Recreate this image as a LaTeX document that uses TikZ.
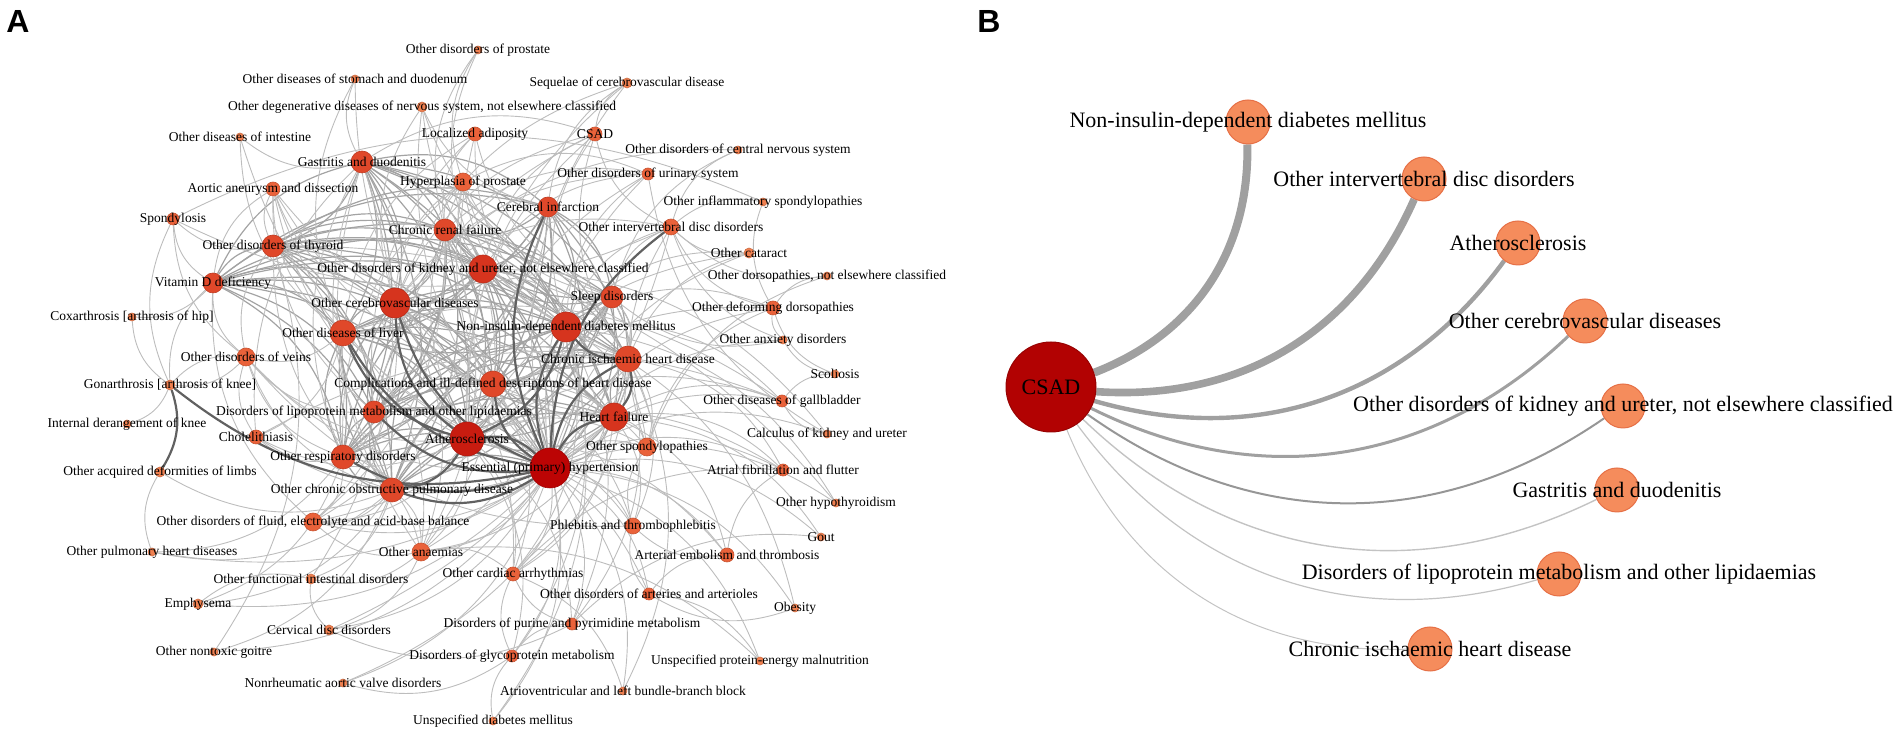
\documentclass[tikz,border=0pt]{standalone}
\usepackage{fontspec}
\setmainfont{Liberation Serif}
\newfontfamily\lettfont{Liberation Sans}
\pgfdeclarelayer{edges}
\pgfsetlayers{edges,main}
\definecolor{cS}{RGB}{240,128,80}
\definecolor{cM}{RGB}{234,98,58}
\definecolor{cL}{RGB}{224,72,42}
\definecolor{cX}{RGB}{214,52,30}
\definecolor{cAth}{RGB}{200,28,16}
\definecolor{cHyp}{RGB}{188,4,4}
\definecolor{cB}{RGB}{245,140,92}
\definecolor{cBo}{RGB}{230,112,70}
\definecolor{cCSAD}{RGB}{178,2,2}
\definecolor{eB1}{RGB}{160,160,160}
\definecolor{eB2}{RGB}{150,150,150}
\definecolor{eB3}{RGB}{195,195,195}
\tikzset{
  gnode/.style={circle,inner sep=0pt,line width=0.3pt},
  glab/.style={inner sep=0pt,text=black,font=\fontsize{6.75}{8}\selectfont},
  ea/.style={draw=black!26,line width=0.45pt},
  eb/.style={draw=black!36,line width=0.6pt},
  ec/.style={draw=black!62,line width=1.1pt},
  bnode/.style={circle,inner sep=0pt,fill=cB,draw=cBo,line width=0.5pt,minimum size=22pt},
  blab/.style={inner sep=0pt,text=black,font=\fontsize{11}{13}\selectfont},
  letter/.style={inner sep=0pt,font=\lettfont\bfseries\fontsize{16}{16}\selectfont},
}
\newcommand\gn[6]{%
  \node[gnode,minimum size=#4pt,fill=#5,draw=#5!85!black] (#1) at (#2,#3) {};
  \node[glab] (#1-l) at (#2,#3) {#6};}
\begin{document}
\begin{tikzpicture}[x=0.5pt,y=-0.5pt]
\useasboundingbox (0,0) rectangle (1902,742);
\node[letter] (labA) at (18,22) {A};
\node[letter] (labB) at (989,22) {B};
% ---------- Panel A nodes ----------
\gn{pros}{478}{50}{4}{cS}{Other disorders of prostate}
\gn{stom}{355}{79}{4}{cS}{Other diseases of stomach and duodenum}
\gn{degen}{422}{107}{5}{cS}{Other degenerative diseases of nervous system, not elsewhere classified}
\gn{seq}{627}{83}{5}{cS}{Sequelae of cerebrovascular disease}
\gn{intes}{240}{137}{4}{cS}{Other diseases of intestine}
\gn{adip}{475}{134}{7}{cM}{Localized adiposity}
\gn{csad}{595}{134}{7}{cM}{CSAD}
\gn{cns}{738}{150}{4}{cS}{Other disorders of central nervous system}
\gn{gast}{362}{162}{11}{cL}{Gastritis and duodenitis}
\gn{urin}{648}{174}{6}{cM}{Other disorders of urinary system}
\gn{hyperp}{463}{182}{9}{cM}{Hyperplasia of prostate}
\gn{aort}{273}{189}{7}{cM}{Aortic aneurysm and dissection}
\gn{infl}{763}{202}{4}{cS}{Other inflammatory spondylopathies}
\gn{cereb}{548}{207}{10}{cL}{Cerebral infarction}
\gn{spondy}{173}{219}{6}{cM}{Spondylosis}
\gn{ivd}{671}{227}{8}{cM}{Other intervertebral disc disorders}
\gn{renal}{445}{230}{11}{cL}{Chronic renal failure}
\gn{thyr}{273}{246}{11}{cL}{Other disorders of thyroid}
\gn{cat}{749}{253}{5}{cS}{Other cataract}
\gn{kid}{483}{269}{14}{cX}{Other disorders of kidney and ureter, not elsewhere classified}
\gn{dors}{827}{276}{4}{cS}{Other dorsopathies, not elsewhere classified}
\gn{vitd}{213}{283}{10}{cL}{Vitamin D deficiency}
\gn{sleep}{612}{297}{11}{cL}{Sleep disorders}
\gn{cvd}{395}{303}{15}{cX}{Other cerebrovascular diseases}
\gn{deform}{773}{308}{7}{cM}{Other deforming dorsopathies}
\gn{coxa}{132}{317}{4}{cS}{Coxarthrosis [arthrosis of hip]}
\gn{dm}{566}{327}{15}{cX}{Non-insulin-dependent diabetes mellitus}
\gn{liver}{343}{333}{13}{cL}{Other diseases of liver}
\gn{anx}{783}{340}{4}{cS}{Other anxiety disorders}
\gn{veins}{246}{357}{9}{cM}{Other disorders of veins}
\gn{ihd}{628}{359}{13}{cL}{Chronic ischaemic heart disease}
\gn{scol}{835}{374}{4}{cS}{Scoliosis}
\gn{compl}{493}{384}{13}{cL}{Complications and ill-defined descriptions of heart disease}
\gn{gona}{170}{385}{5}{cS}{Gonarthrosis [arthrosis of knee]}
\gn{gall}{782}{401}{6}{cM}{Other diseases of gallbladder}
\gn{lipo}{374}{412}{11}{cL}{Disorders of lipoprotein metabolism and other lipidaemias}
\gn{hf}{614}{417}{14}{cX}{Heart failure}
\gn{knee}{127}{424}{4}{cS}{Internal derangement of knee}
\gn{calc}{827}{434}{4}{cS}{Calculus of kidney and ureter}
\gn{chole}{256}{437}{7}{cM}{Cholelithiasis}
\gn{ath}{467}{439}{17}{cAth}{Atherosclerosis}
\gn{spondyl}{647}{447}{9}{cM}{Other spondylopathies}
\gn{resp}{343}{457}{12}{cL}{Other respiratory disorders}
\gn{hyp}{550}{468}{20}{cHyp}{Essential (primary) hypertension}
\gn{af}{783}{470}{6}{cM}{Atrial fibrillation and flutter}
\gn{limbs}{160}{472}{5}{cS}{Other acquired deformities of limbs}
\gn{copd}{392}{490}{12}{cL}{Other chronic obstructive pulmonary disease}
\gn{hypo}{836}{503}{4}{cS}{Other hypothyroidism}
\gn{fluid}{313}{522}{9}{cM}{Other disorders of fluid, electrolyte and acid-base balance}
\gn{phleb}{633}{526}{8}{cM}{Phlebitis and thrombophlebitis}
\gn{gout}{821}{537}{4}{cS}{Gout}
\gn{pulm}{152}{552}{4}{cS}{Other pulmonary heart diseases}
\gn{anaem}{421}{552}{9}{cM}{Other anaemias}
\gn{emb}{727}{555}{7}{cM}{Arterial embolism and thrombosis}
\gn{arr}{513}{574}{7}{cM}{Other cardiac arrhythmias}
\gn{func}{311}{579}{5}{cS}{Other functional intestinal disorders}
\gn{art}{649}{594}{6}{cM}{Other disorders of arteries and arterioles}
\gn{emph}{198}{604}{5}{cS}{Emphysema}
\gn{obes}{795}{608}{4}{cS}{Obesity}
\gn{purine}{572}{624}{6}{cM}{Disorders of purine and pyrimidine metabolism}
\gn{cerv}{329}{630}{5}{cS}{Cervical disc disorders}
\gn{goitre}{214}{652}{4}{cS}{Other nontoxic goitre}
\gn{glyco}{512}{656}{6}{cM}{Disorders of glycoprotein metabolism}
\gn{malnut}{760}{661}{4}{cS}{Unspecified protein-energy malnutrition}
\gn{aortv}{343}{683}{4}{cS}{Nonrheumatic aortic valve disorders}
\gn{avb}{623}{691}{4}{cS}{Atrioventricular and left bundle-branch block}
\gn{udm}{493}{721}{4}{cS}{Unspecified diabetes mellitus}
% ---------- Panel A edges ----------
\begin{pgfonlayer}{edges}
\foreach \a [count=\i] in {hyp,ath,dm,cvd,ihd,hf,compl,liver,kid,lipo,resp,copd,renal,sleep,cereb,thyr,gast,vitd}{
  \foreach \b [count=\j] in {hyp,ath,dm,cvd,ihd,hf,compl,liver,kid,lipo,resp,copd,renal,sleep,cereb,thyr,gast,vitd}{
    \ifnum\j>\i \draw[eb] (\a) to[bend right=25] (\b);\fi
  }
}
\foreach \a/\b in {pros/hyperp,pros/renal,pros/kid,stom/gast,stom/liver,stom/hyp,
 degen/cvd,degen/cereb,degen/sleep,degen/hyp,degen/dm,seq/cereb,seq/cvd,seq/hyp,seq/csad,seq/ath,
 intes/gast,intes/liver,intes/hyp,adip/dm,adip/hyp,adip/lipo,adip/liver,adip/sleep,adip/renal,
 csad/ivd,csad/cvd,csad/dm,csad/ath,csad/kid,csad/gast,csad/lipo,csad/ihd,cns/ivd,cns/cvd,cns/sleep,
 gast/resp,gast/copd,gast/chole,gast/anaem,urin/kid,urin/renal,urin/hyperp,urin/hyp,urin/dm,urin/ath,urin/cvd,urin/calc,
 hyperp/kid,hyperp/hyp,hyperp/renal,hyperp/dm,hyperp/ath,hyperp/cvd,hyperp/ihd,hyperp/resp,hyperp/sleep,
 aort/hyp,aort/ath,aort/cvd,aort/ihd,aort/hf,aort/thyr,aort/vitd,aort/liver,aort/lipo,
 infl/ivd,infl/deform,infl/spondy,spondy/vitd,spondy/veins,spondy/ivd,spondy/gona,spondy/thyr,
 ivd/deform,ivd/dors,ivd/spondyl,ivd/cat,ivd/anx,ivd/cvd,ivd/sleep,ivd/dm,thyr/veins,thyr/copd,
 cat/dm,cat/hyp,cat/ath,cat/ihd,dors/deform,dors/spondyl,vitd/veins,vitd/fluid,vitd/gona,
 sleep/anx,deform/spondyl,deform/anx,deform/scol,deform/hyp,deform/ath,deform/dm,coxa/gona,coxa/vitd,
 anx/scol,anx/hyp,veins/liver,veins/hyp,veins/ath,veins/resp,veins/copd,veins/chole,veins/gona,veins/lipo,veins/phleb,
 scol/gall,knee/gona,gona/veins,gall/chole,gall/liver,gall/calc,gall/hyp,gall/dm,gall/ath,gall/hf,calc/kid,calc/hyp,
 chole/liver,chole/resp,chole/hyp,chole/ath,spondyl/hyp,spondyl/ath,spondyl/dm,spondyl/ihd,spondyl/hf,spondyl/phleb,
 af/hf,af/ihd,af/hyp,af/arr,af/emb,af/ath,limbs/pulm,limbs/copd,hypo/hyp,hypo/dm,hypo/thyr,
 fluid/hyp,fluid/ath,fluid/copd,fluid/resp,fluid/anaem,fluid/hf,fluid/renal,fluid/kid,fluid/cvd,fluid/dm,
 phleb/hyp,phleb/ath,phleb/art,phleb/emb,phleb/hf,phleb/ihd,gout/hyp,gout/purine,gout/hf,pulm/copd,pulm/resp,pulm/hf,
 anaem/hyp,anaem/ath,anaem/copd,anaem/resp,anaem/renal,anaem/kid,anaem/hf,anaem/dm,anaem/cvd,anaem/liver,
 emb/ath,emb/hyp,emb/art,emb/hf,arr/hyp,arr/ath,arr/ihd,arr/hf,arr/compl,arr/dm,arr/cvd,arr/glyco,arr/purine,
 func/gast,func/copd,func/anaem,func/cerv,func/emph,art/ath,art/hyp,art/obes,emph/copd,emph/resp,emph/hyp,
 obes/hyp,obes/dm,purine/hyp,purine/ath,purine/dm,purine/ihd,purine/glyco,cerv/ivd,cerv/hyp,cerv/purine,cerv/anaem,
 goitre/thyr,goitre/copd,goitre/hyp,glyco/hyp,glyco/dm,glyco/ath,glyco/udm,malnut/hyp,malnut/anaem,malnut/art,
 aortv/hyp,aortv/ihd,aortv/glyco,avb/arr,avb/hyp,avb/ihd,udm/dm,udm/hyp,
 spondyl/compl,compl/sleep,ihd/sleep,hf/sleep,hf/compl,phleb/compl,arr/anaem,copd/resp,resp/lipo}
  \draw[ea] (\a) to[bend right=25] (\b);
\foreach \a/\b in {hyp/ath,dm/hyp,ihd/hyp,hf/hyp,cvd/hyp,copd/hyp,compl/hyp,cvd/ath,liver/ath,ath/dm,
 dm/ihd,hf/ihd,gona/hyp,limbs/gona,ivd/hyp,copd/ath,lipo/hyp,resp/hyp,cereb/hyp,liver/hyp}
  \draw[ec] (\a) to[bend right=25] (\b);
\end{pgfonlayer}
% ---------- Panel B ----------
\node[circle,inner sep=0pt,fill=cCSAD,draw=cCSAD!85!black,line width=0.5pt,minimum size=45pt] (bcsad) at (1051,387) {};
\node[blab] (bcsad-l) at (1051,387) {CSAD};
\node[bnode] (bdm) at (1248,122) {};
\node[bnode] (bivd) at (1424,179) {};
\node[bnode] (bath) at (1518,243) {};
\node[bnode] (bcvd) at (1585,321) {};
\node[bnode] (bkid) at (1623,406) {};
\node[bnode] (bgast) at (1617,490) {};
\node[bnode] (blipo) at (1559,574) {};
\node[bnode] (bihd) at (1430,649) {};
\node[blab] (bdm-l) at (bdm) {Non-insulin-dependent diabetes mellitus};
\node[blab] (bivd-l) at (bivd) {Other intervertebral disc disorders};
\node[blab] (bath-l) at (bath) {Atherosclerosis};
\node[blab] (bcvd-l) at (bcvd) {Other cerebrovascular diseases};
\node[blab] (bkid-l) at (bkid) {Other disorders of kidney and ureter, not elsewhere classified};
\node[blab] (bgast-l) at (bgast) {Gastritis and duodenitis};
\node[blab] (blipo-l) at (blipo) {Disorders of lipoprotein metabolism and other lipidaemias};
\node[blab] (bihd-l) at (bihd) {Chronic ischaemic heart disease};
\begin{pgfonlayer}{edges}
\draw[eB1,line width=4pt] (bcsad) to[bend right=35] (bdm);
\draw[eB1,line width=3.8pt] (bcsad) to[bend right=35] (bivd);
\draw[eB1,line width=2.2pt] (bcsad) to[bend right=35] (bath);
\draw[eB1,line width=1.5pt] (bcsad) to[bend right=35] (bcvd);
\draw[eB2,line width=1pt] (bcsad) to[bend right=35] (bkid);
\draw[eB3,line width=0.7pt] (bcsad) to[bend right=35] (bgast);
\draw[eB3,line width=0.6pt] (bcsad) to[bend right=35] (blipo);
\draw[eB3,line width=0.5pt] (bcsad) to[bend right=35] (bihd);
\end{pgfonlayer}
\end{tikzpicture}
\end{document}
